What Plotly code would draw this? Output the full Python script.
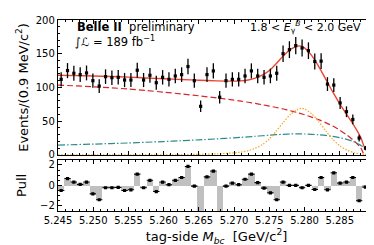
import plotly.graph_objects as go

# ---------------- data ----------------
bin_low = 5.245
bin_width = 0.0009
n_bins = 50

counts = [112, 125, 121, 119, 121.5, 110, 102, 116, 114.5, 115,
          111, 111, 125.5, 111, 118, 107, 115, 112, 117, 119,
          131, 110, 72, 119, 124.5, 85.5, 110, 112, 112, 117,
          124.5, 117, 115, 117, 121, 150, 156, 162, 158.5, 154.5,
          138.5, 139, 105, 103.5, 77, 64, 52.5, 25, 10, 4]
count_err = [10.6, 11.2, 11.0, 10.9, 11.0, 10.5, 10.1, 10.8, 10.7, 10.7,
             10.5, 10.5, 11.2, 10.5, 10.9, 10.3, 10.7, 10.6, 10.8, 10.9,
             11.4, 10.5, 8.5, 10.9, 11.2, 9.2, 10.5, 10.6, 10.6, 10.8,
             11.2, 10.8, 10.7, 10.8, 11.0, 12.2, 12.5, 12.7, 12.6, 12.4,
             11.8, 11.8, 10.2, 10.2, 8.8, 8.0, 7.2, 5.0, 3.2, 2.0]
pulls = [-0.5, 0.67, 0.33, 0.1, 0.33, -0.83, -1.4, -0.23, -0.23, -0.2,
         -0.5, -0.43, 1.1, -0.23, 0.5, -0.6, 0.33, 0.07, 0.5, 0.77,
         1.85, -0.07, -3.6, 0.83, 1.4, -2.7, -0.07, 0.23, 0.07, 0.6,
         1.1, 0.27, -0.27, -0.73, -1.4, 0.33, 0.0, 0.0, -0.23, 0.0,
         -0.4, 0.77, -0.43, 1.23, 0.23, 0.33, 0.77, -1.5, -0.17, -0.4]

curve_mbc = [5.245, 5.2475, 5.25, 5.2525, 5.255, 5.2575, 5.26, 5.2625, 5.265, 5.2675,
             5.27, 5.271, 5.272, 5.273, 5.274, 5.275, 5.276, 5.277, 5.278, 5.279,
             5.2795, 5.28, 5.281, 5.282, 5.283, 5.284, 5.285, 5.286, 5.287, 5.288,
             5.2885, 5.289, 5.29]
fit_total = [118.0, 117.5, 117.0, 116.3, 115.3, 114.1, 112.9, 111.7, 110.7, 109.8,
             109.4, 109.8, 111.1, 113.7, 118.1, 125.1, 135.6, 146.9, 156.4, 161.3,
             161.3, 158.6, 147.6, 131.3, 112.3, 93.4, 75.8, 59.7, 43.9, 25.4,
             11.9, 8.5, 3.2]
combinatorial = [103.5, 102.3, 101.0, 99.5, 97.6, 95.4, 93.0, 90.4, 87.6, 84.5,
                 81.1, 79.6, 78.0, 76.3, 74.4, 72.4, 70.3, 68.0, 65.5, 62.7,
                 61.1, 59.5, 56.0, 52.2, 47.8, 42.7, 36.7, 29.6, 21.0, 10.0,
                 0.0, 0.0, 0.0]
peaking_bkg = [14.5, 15.2, 16.0, 16.8, 17.7, 18.7, 19.8, 21.0, 22.3, 23.7,
               25.3, 26.0, 26.8, 27.6, 28.4, 29.2, 29.9, 30.5, 31.0, 31.2,
               31.2, 31.0, 30.5, 29.8, 28.8, 27.5, 25.5, 23.0, 19.5, 14.0,
               11.0, 8.0, 3.0]
signal = [0, 0, 0, 0, 0, 0, 0.1, 0.3, 0.8, 1.6,
          3.0, 4.2, 6.3, 9.8, 15.3, 23.5, 35.4, 48.4, 59.9, 67.4,
          69.0, 68.1, 61.1, 49.3, 35.7, 23.2, 13.6, 7.1, 3.4, 1.4,
          0.9, 0.5, 0.2]

x_ticks = [5.245, 5.250, 5.255, 5.260, 5.265, 5.270, 5.275, 5.280, 5.285]
x_tick_labels = ["5.245", "5.250", "5.255", "5.260", "5.265", "5.270", "5.275", "5.280", "5.285"]

# ---------------- derived ----------------
mbc = [round(bin_low + bin_width * (i + 0.5), 6) for i in range(n_bins)]
half_bin = [bin_width / 2] * n_bins

FONT = "DejaVu Sans"
fig = go.Figure()

# curves (top panel)
fig.add_trace(go.Scatter(x=curve_mbc, y=combinatorial, mode="lines",
                         line=dict(color="#d62728", width=1.2, dash="6px,3px", shape="spline", smoothing=0.8),
                         xaxis="x", yaxis="y", hoverinfo="skip"))
fig.add_trace(go.Scatter(x=curve_mbc, y=peaking_bkg, mode="lines",
                         line=dict(color="#2e8b8b", width=1.2, dash="7px,2px,1.5px,2px", shape="spline", smoothing=0.8),
                         xaxis="x", yaxis="y", hoverinfo="skip"))
fig.add_trace(go.Scatter(x=curve_mbc, y=signal, mode="lines",
                         line=dict(color="#f5a623", width=1.2, dash="1.5px,1.5px", shape="spline", smoothing=0.8),
                         xaxis="x", yaxis="y", hoverinfo="skip"))
fig.add_trace(go.Scatter(x=curve_mbc, y=fit_total, mode="lines",
                         line=dict(color="#ee4433", width=1.4, shape="spline", smoothing=0.8),
                         xaxis="x", yaxis="y", hoverinfo="skip"))
# data points
fig.add_trace(go.Scatter(x=mbc, y=counts, mode="markers",
                         marker=dict(color="black", size=3.2, symbol="square"),
                         error_y=dict(type="data", array=count_err, color="black", thickness=1.3, width=0),
                         xaxis="x", yaxis="y"))

# pull panel
fig.add_trace(go.Bar(x=mbc, y=pulls, width=bin_width, marker=dict(color="#c0c0c0", line=dict(width=0)),
                     xaxis="x2", yaxis="y2"))
fig.add_trace(go.Scatter(x=mbc, y=pulls, mode="markers",
                         marker=dict(color="black", size=3.2, symbol="square"),
                         error_x=dict(type="data", array=half_bin, color="black", thickness=1.1, width=0),
                         xaxis="x2", yaxis="y2"))

axis_common = dict(showline=True, linecolor="black", linewidth=1.4, mirror="allticks",
                   ticks="inside", tickcolor="black", ticklen=4, tickwidth=1,
                   showgrid=False, zeroline=False,
                   tickfont=dict(family=FONT, size=10, color="black"))

fig.update_layout(
    width=374, height=245,
    margin=dict(l=50, r=6, t=9, b=42),
    paper_bgcolor="white", plot_bgcolor="white",
    showlegend=False,
    font=dict(family=FONT, color="black"),
    bargap=0,
    xaxis=dict(**axis_common, domain=[0, 1], anchor="y", range=[5.245, 5.29],
               tickvals=x_ticks, showticklabels=False,
               minor=dict(ticks="inside", dtick=0.001, tick0=5.245, ticklen=2, tickcolor="black")),
    xaxis2=dict(**axis_common, domain=[0, 1], anchor="y2", range=[5.245, 5.29], matches="x",
                tickvals=x_ticks, ticktext=x_tick_labels,
                minor=dict(ticks="inside", dtick=0.001, tick0=5.245, ticklen=2, tickcolor="black"),
                title=dict(text="tag-side <i>M<sub>bc</sub></i>  [GeV/c<sup>2</sup>]",
                           font=dict(family=FONT, size=13), standoff=6)),
    yaxis=dict(**axis_common, domain=[0.2938, 1], anchor="x", range=[0, 200],
               tickvals=[0, 50, 100, 150, 200],
               minor=dict(ticks="inside", dtick=10, ticklen=2, tickcolor="black"),
               title=dict(text="Events/(0.9 MeV/c<sup>2</sup>)", font=dict(family=FONT, size=13), standoff=4)),
    yaxis2=dict(**axis_common, domain=[0, 0.268], anchor="x2", range=[-2.5, 2.5],
                tickvals=[-2, 0, 2], ticktext=["\u22122", "0", "2"],
                minor=dict(ticks="inside", dtick=0.5, tick0=0, ticklen=2, tickcolor="black"),
                title=dict(text="Pull", font=dict(family=FONT, size=13), standoff=10)),
)

fig.add_annotation(xref="paper", yref="paper", x=0.053, y=0.962, xanchor="left", yanchor="middle",
                   text="<b>Belle II</b>  preliminary", showarrow=False,
                   font=dict(family=FONT, size=11.5, color="black"))
fig.add_annotation(xref="paper", yref="paper", x=0.047, y=0.89, xanchor="left", yanchor="middle",
                   text="\u222b\u2112 = 189 fb<sup>\u22121</sup>", showarrow=False,
                   font=dict(family=FONT, size=11.5, color="black"))
fig.add_annotation(xref="paper", yref="paper", x=0.598, y=0.962, xanchor="left", yanchor="middle",
                   text="1.8 < <i>E</i><sub>\u03b3</sub><sup><i>B</i></sup> < 2.0 GeV", showarrow=False,
                   font=dict(family=FONT, size=11, color="black"))

fig.write_html("out.html")
